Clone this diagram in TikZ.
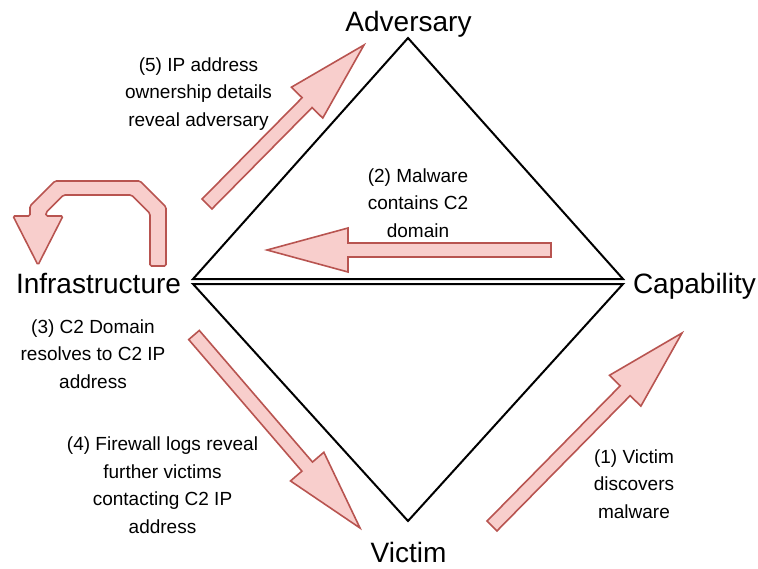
\documentclass[tikz,border=0pt]{standalone}
\usepackage{fontspec}
\setmainfont{Liberation Sans}
\usetikzlibrary{calc}

\definecolor{arrowfill}{HTML}{F8CECC}
\definecolor{arrowline}{HTML}{B85450}

\tikzset{
  edge/.style={draw=black, line width=2pt, line join=miter},
  flexarrow/.style={draw=arrowline, fill=arrowfill, line width=1.6pt, line join=miter},
  biglabel/.style={font=\fontsize{28}{32}\selectfont, inner sep=0pt},
  note/.style={font=\fontsize{19}{27.5}\selectfont, align=center, inner sep=0pt}
}

% straight block arrow from tail #1 to tip #2
\newcommand\blockarrow[2]{%
  \coordinate (hb) at ($(#2)!81pt!(#1)$);
  \draw[flexarrow]
    ($(#1)!7pt!90:(#2)$) -- ($(hb)!7pt!90:(#2)$) -- ($(hb)!22pt!90:(#2)$)
    -- (#2)
    -- ($(hb)!22pt!-90:(#2)$) -- ($(hb)!7pt!-90:(#2)$) -- ($(#1)!7pt!-90:(#2)$)
    -- cycle;
}

\begin{document}
\begin{tikzpicture}[x=1pt, y=-1pt]
  \useasboundingbox (0,0) rectangle (758,568);

  % vertices of the diamond (two triangles)
  \coordinate (adv) at (408,38);
  \coordinate (infU) at (193,279);
  \coordinate (capU) at (623,279);
  \coordinate (infL) at (193,284);
  \coordinate (capL) at (623,284);
  \coordinate (vic) at (408,521);

  \draw[edge] (infU) -- (adv) -- (capU) -- cycle;
  \draw[edge] (infL) -- (capL) -- (vic) -- cycle;

  % vertex labels
  \node[biglabel, anchor=base] (adversary) at (408.5,31) {Adversary};
  \node[biglabel, anchor=base] (infrastructure) at (98.5,293) {Infrastructure};
  \node[biglabel, anchor=base] (capability) at (694.5,293) {Capability};
  \node[biglabel, anchor=base] (victim) at (408.5,562) {Victim};

  % step arrows
  \coordinate (s1) at (492,526); \coordinate (e1) at (682,333);
  \coordinate (s2) at (551,250); \coordinate (e2) at (267,250);
  \coordinate (s4) at (194,335); \coordinate (e4) at (360,528);
  \coordinate (s5) at (207,204); \coordinate (e5) at (364,45);
  \blockarrow{s1}{e1}
  \blockarrow{s2}{e2}
  \blockarrow{s4}{e4}
  \blockarrow{s5}{e5}

  % bent arrow looping back onto Infrastructure
  \draw[flexarrow, rounded corners=1.5pt]
    (166,266) -- (166,207) -- (140,181) -- (55,181) -- (30,206) -- (30,216)
    -- (13,216) -- (38,265) -- (63,216)
    -- (46,216) -- (46,212.6) -- (63.6,195) -- (131.4,195) -- (150,213.6)
    -- (150,266) -- cycle;

  % step notes
  \node[note] (n1) at (634,484) {(1) Victim\\discovers\\malware};
  \node[note] (n2) at (418,203) {(2) Malware\\contains C2\\domain};
  \node[note] (n3) at (93,354) {(3) C2 Domain\\resolves to C2 IP\\address};
  \node[note] (n4) at (162.5,485) {(4) Firewall logs reveal\\further victims\\contacting C2 IP\\address};
  \node[note] (n5) at (198.5,94) {(5) IP address\\ownership details\\reveal adversary};
\end{tikzpicture}
\end{document}
